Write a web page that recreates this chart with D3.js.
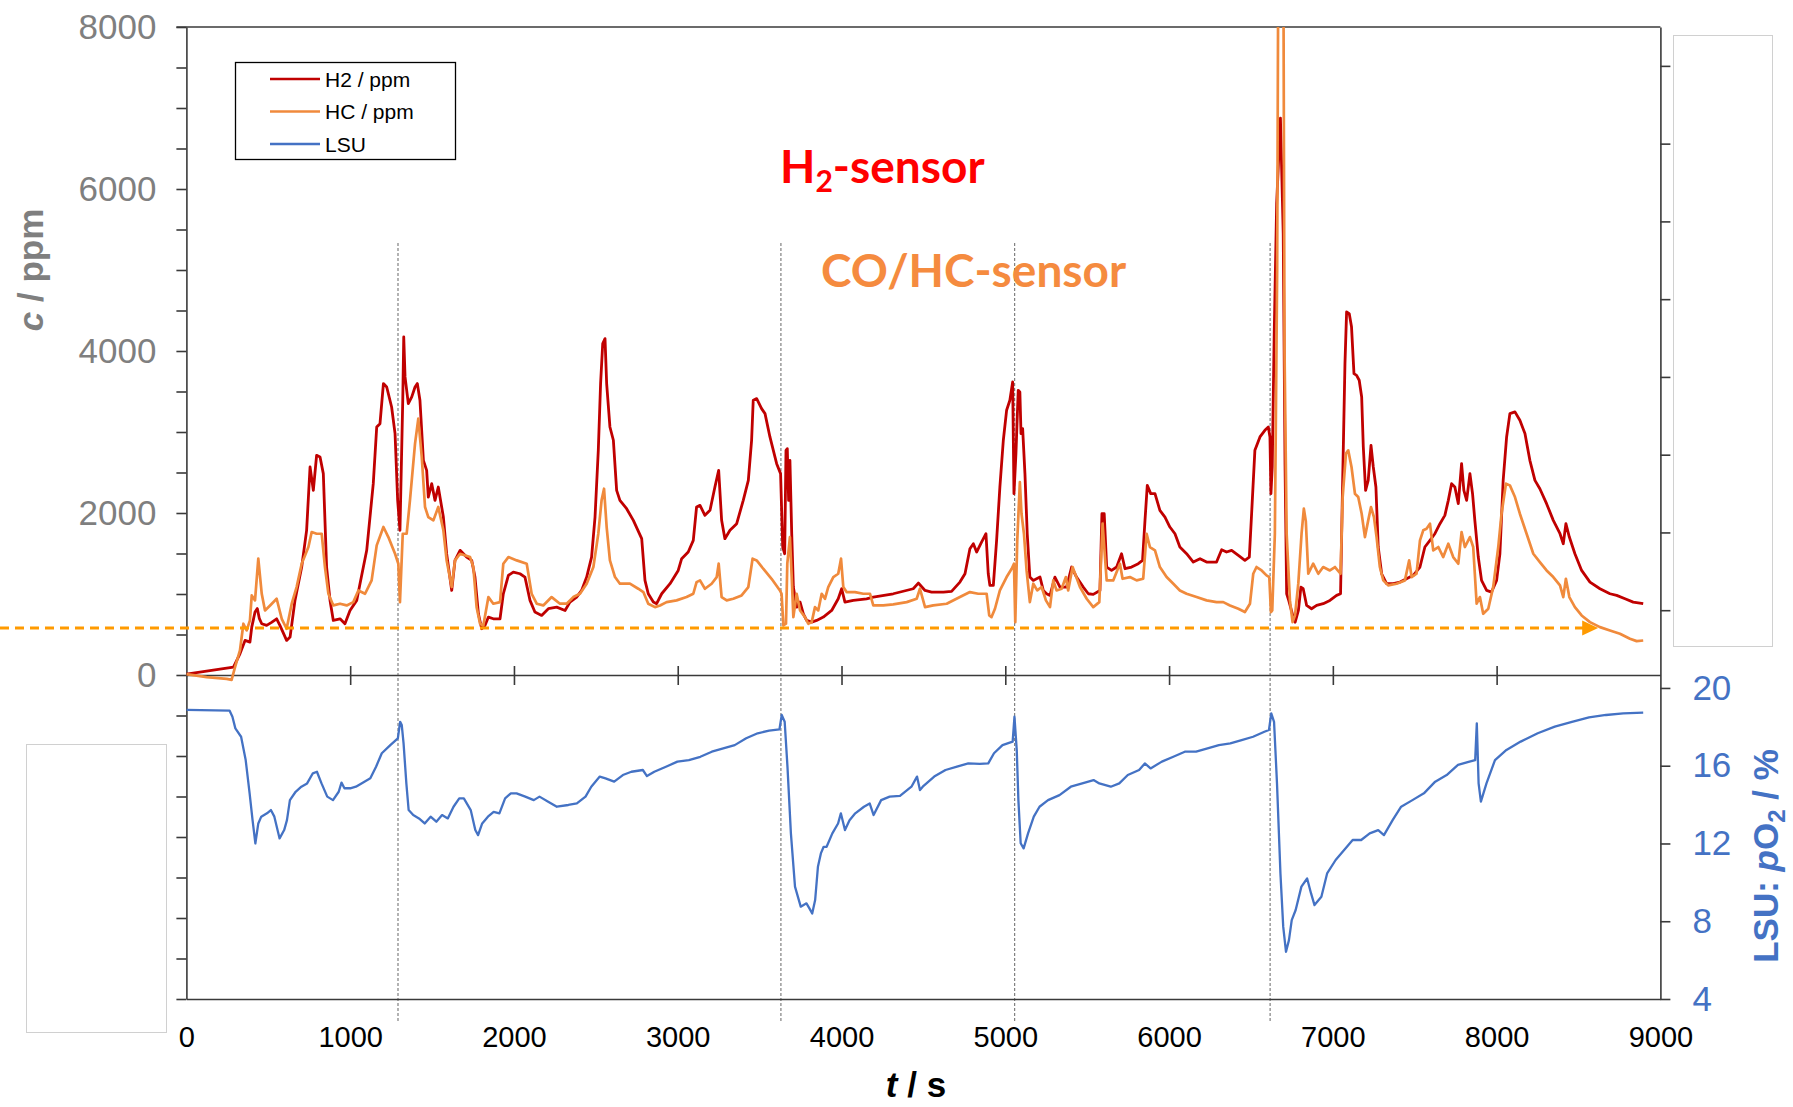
<!DOCTYPE html>
<html>
<head>
<meta charset="utf-8">
<script src="https://cdn.jsdelivr.net/npm/d3@7"></script>
<style>
  body { margin: 0; background: #fff; }
  svg { display: block; }
</style>
</head>
<body>
<div id="chart"></div>
<script>
// time in s, concentrations in ppm, LSU in % O2
const h2Data = [[0,10],[287,97],[297,138],[327,262],[358,427],[388,406],[399,591],[419,777],[433,820],[445,700],[460,633],[490,612],[520,650],[551,694],[571,612],[612,427],[633,468],[663,921],[704,1333],[734,1786],[755,2568],[775,2280],[795,2712],[816,2692],[836,2486],[856,1333],[877,921],[897,674],[938,694],[968,633],[999,797],[1040,921],[1060,1127],[1101,1539],[1141,2362],[1162,3062],[1182,3103],[1203,3598],[1223,3556],[1253,3309],[1274,2980],[1290,2156],[1304,1786],[1321,3392],[1327,4174],[1335,3680],[1355,3350],[1376,3433],[1396,3556],[1410,3598],[1426,3392],[1447,2650],[1467,2527],[1477,2197],[1498,2362],[1518,2156],[1538,2321],[1569,1950],[1589,1497],[1620,1044],[1640,1415],[1671,1539],[1711,1456],[1742,1415],[1762,1209],[1783,756],[1803,571],[1823,612],[1844,715],[1874,694],[1915,694],[1935,1003],[1966,1230],[1996,1271],[2037,1250],[2067,1209],[2098,921],[2128,777],[2169,736],[2210,818],[2261,838],[2312,797],[2342,900],[2383,962],[2413,1044],[2444,1209],[2474,1456],[2495,1950],[2515,2774],[2529,3598],[2542,4092],[2556,4153],[2566,3598],[2586,3062],[2607,2898],[2627,2280],[2647,2156],[2688,2053],[2729,1909],[2780,1683],[2800,1168],[2820,1003],[2851,900],[2871,880],[2902,1003],[2953,1127],[3003,1291],[3024,1436],[3064,1518],[3095,1662],[3115,2074],[3136,2094],[3166,1971],[3197,2033],[3227,2321],[3250,2527],[3268,1909],[3288,1683],[3319,1786],[3360,1868],[3400,2156],[3431,2403],[3451,2898],[3461,3392],[3482,3412],[3512,3289],[3533,3227],[3563,2939],[3604,2609],[3628,2486],[3641,1580],[3653,1497],[3661,2774],[3669,2794],[3677,2156],[3685,2650],[3696,1744],[3706,1086],[3726,838],[3747,900],[3767,756],[3787,674],[3818,653],[3848,674],[3889,715],[3940,797],[3980,941],[4001,1065],[4021,900],[4072,921],[4153,941],[4194,962],[4316,1003],[4438,1065],[4469,1135],[4510,1044],[4550,1024],[4622,1024],[4672,1032],[4723,1147],[4754,1250],[4784,1559],[4805,1621],[4825,1518],[4855,1641],[4882,1744],[4896,1250],[4906,1106],[4927,1106],[4947,1662],[4967,2321],[4988,2898],[5008,3268],[5028,3392],[5045,3618],[5053,2239],[5065,2733],[5079,3515],[5089,3495],[5096,2980],[5106,3042],[5120,2486],[5134,1744],[5150,1209],[5171,1168],[5191,1188],[5212,1209],[5232,1044],[5252,1003],[5273,983],[5303,1209],[5334,1086],[5374,1086],[5405,1333],[5435,1209],[5476,1086],[5507,1003],[5537,995],[5578,1044],[5590,1991],[5604,1991],[5619,1333],[5649,1291],[5680,1333],[5710,1497],[5731,1312],[5771,1333],[5812,1374],[5838,1415],[5853,1909],[5867,2341],[5888,2239],[5914,2239],[5944,2033],[5975,1950],[6005,1827],[6036,1744],[6066,1580],[6107,1497],[6148,1394],[6189,1436],[6229,1394],[6290,1394],[6321,1547],[6351,1518],[6382,1539],[6423,1477],[6463,1415],[6490,1456],[6504,1991],[6524,2774],[6555,2939],[6585,3021],[6606,3062],[6616,2939],[6622,2239],[6630,2568],[6642,4215],[6657,5825],[6680,6875],[6697,5449],[6708,2600],[6718,1003],[6731,919],[6758,715],[6770,652],[6790,800],[6805,1085],[6819,1065],[6840,859],[6870,818],[6901,859],[6941,880],[6982,921],[7023,983],[7047,1003],[7060,2403],[7074,3845],[7084,4483],[7100,4462],[7114,4298],[7129,3721],[7145,3700],[7161,3639],[7176,3433],[7186,2815],[7200,2280],[7216,2403],[7233,2836],[7247,2568],[7263,2321],[7277,1580],[7298,1250],[7328,1127],[7369,1127],[7410,1147],[7450,1188],[7491,1230],[7532,1333],[7562,1580],[7593,1662],[7623,1744],[7654,1868],[7684,1971],[7705,2156],[7725,2362],[7745,2321],[7766,2115],[7786,2609],[7800,2280],[7817,2156],[7837,2486],[7853,2238],[7867,1909],[7888,1456],[7908,1168],[7939,1044],[7969,1024],[8000,1168],[8020,1497],[8040,2403],[8061,2939],[8081,3227],[8112,3248],[8142,3145],[8173,2980],[8203,2650],[8234,2403],[8264,2300],[8305,2115],[8346,1909],[8387,1744],[8407,1621],[8423,1868],[8444,1703],[8478,1497],[8519,1291],[8570,1147],[8631,1065],[8692,1003],[8733,983],[8784,941],[8834,900],[8895,880]];

const hcData = [[0,10],[124,-27],[246,-47],[276,-60],[297,97],[327,303],[348,633],[368,550],[388,674],[399,983],[419,921],[439,1436],[460,1003],[480,797],[511,859],[551,941],[582,694],[612,571],[643,880],[673,1086],[704,1374],[745,1580],[765,1765],[795,1744],[826,1744],[846,1333],[867,1003],[897,859],[938,880],[979,859],[1019,900],[1050,1044],[1091,1003],[1131,1168],[1162,1600],[1203,1827],[1233,1703],[1274,1497],[1294,1374],[1304,900],[1321,1744],[1345,1744],[1365,2156],[1396,2856],[1416,3165],[1437,2692],[1457,2074],[1477,1950],[1508,1909],[1538,2074],[1569,1786],[1589,1415],[1620,1086],[1640,1415],[1671,1497],[1732,1456],[1752,1333],[1772,838],[1793,633],[1813,612],[1844,962],[1874,880],[1915,900],[1935,1374],[1966,1456],[2017,1415],[2078,1374],[2108,1003],[2139,880],[2179,859],[2230,962],[2281,880],[2322,880],[2362,962],[2403,1003],[2444,1127],[2485,1333],[2515,1744],[2535,2156],[2550,2300],[2566,1827],[2586,1415],[2617,1209],[2647,1127],[2708,1127],[2759,1065],[2790,1024],[2820,880],[2861,838],[2892,859],[2932,900],[2993,921],[3054,962],[3095,1003],[3115,1147],[3136,1168],[3166,1065],[3207,1127],[3238,1209],[3250,1374],[3268,962],[3299,921],[3339,941],[3390,983],[3431,1086],[3457,1436],[3482,1415],[3522,1312],[3573,1188],[3624,1044],[3634,1003],[3645,612],[3661,633],[3669,1374],[3685,1703],[3696,1209],[3706,715],[3726,1003],[3747,797],[3777,715],[3797,633],[3818,653],[3838,838],[3858,797],[3879,1003],[3899,941],[3919,1086],[3950,1209],[3980,1250],[3997,1436],[4011,1086],[4031,1024],[4082,1024],[4133,1003],[4174,1003],[4194,859],[4255,859],[4316,871],[4398,900],[4459,941],[4479,1065],[4510,838],[4560,859],[4642,880],[4723,962],[4784,1024],[4835,1003],[4886,1003],[4902,736],[4916,715],[4937,818],[4967,1044],[5008,1209],[5039,1312],[5053,1374],[5061,653],[5073,1662],[5089,2383],[5099,1991],[5114,1744],[5130,1291],[5150,900],[5171,1127],[5195,1044],[5222,1086],[5248,921],[5273,838],[5293,1168],[5313,1044],[5344,1065],[5370,1209],[5384,1044],[5411,1333],[5456,1086],[5497,941],[5537,838],[5574,900],[5594,1868],[5619,1168],[5659,1168],[5700,1374],[5716,1188],[5761,1209],[5802,1168],[5842,1188],[5863,1744],[5883,1580],[5914,1539],[5944,1333],[5985,1209],[6026,1127],[6066,1044],[6107,1003],[6168,962],[6229,921],[6290,900],[6331,900],[6372,859],[6423,818],[6463,777],[6494,880],[6514,1250],[6534,1333],[6565,1291],[6595,1230],[6612,1209],[6622,777],[6630,797],[6646,1744],[6660,5000],[6668,9500],[6697,9500],[6705,4000],[6718,1744],[6738,921],[6754,653],[6769,736],[6789,1127],[6809,1744],[6823,2053],[6835,1900],[6850,1250],[6880,1374],[6911,1250],[6941,1333],[6982,1291],[7013,1333],[7047,1250],[7060,2197],[7080,2733],[7094,2774],[7114,2568],[7135,2238],[7155,2197],[7176,1991],[7196,1703],[7216,1909],[7233,2074],[7251,1950],[7267,1703],[7287,1333],[7308,1168],[7338,1106],[7389,1127],[7440,1168],[7466,1415],[7481,1209],[7511,1250],[7532,1662],[7552,1786],[7572,1806],[7593,1868],[7613,1538],[7644,1580],[7674,1456],[7705,1621],[7735,1456],[7766,1374],[7786,1765],[7806,1580],[7837,1703],[7857,1580],[7878,880],[7898,962],[7918,756],[7949,818],[7979,1085],[8010,1580],[8030,1991],[8057,2362],[8081,2341],[8112,2197],[8142,1991],[8183,1744],[8224,1497],[8264,1394],[8305,1291],[8346,1209],[8387,1106],[8407,962],[8423,1188],[8444,962],[8478,838],[8519,735],[8570,653],[8631,591],[8692,550],[8753,509],[8814,447],[8855,418],[8895,426]];

const lsuData = [[0,18.87],[264,18.83],[281,18.52],[299,17.92],[334,17.49],[362,16.29],[386,14.58],[404,13.2],[421,12.0],[439,13.03],[457,13.38],[492,13.55],[516,13.72],[537,13.38],[569,12.26],[597,12.69],[614,13.2],[632,14.23],[667,14.66],[702,14.92],[737,15.09],[772,15.61],[797,15.69],[825,15.09],[860,14.41],[895,14.23],[930,14.66],[947,15.13],[965,14.84],[1000,14.84],[1035,14.92],[1087,15.18],[1123,15.35],[1158,15.95],[1193,16.64],[1245,17.06],[1291,17.41],[1305,18.26],[1315,18.09],[1326,17.15],[1343,15.09],[1357,13.72],[1385,13.46],[1420,13.29],[1455,13.03],[1491,13.38],[1526,13.12],[1561,13.46],[1596,13.29],[1631,13.89],[1666,14.32],[1694,14.32],[1736,13.72],[1764,12.69],[1781,12.43],[1806,13.03],[1841,13.38],[1876,13.63],[1911,13.55],[1946,14.32],[1981,14.58],[2016,14.58],[2069,14.41],[2121,14.23],[2156,14.41],[2209,14.15],[2262,13.89],[2332,13.98],[2384,14.06],[2437,14.41],[2472,14.92],[2524,15.44],[2559,15.35],[2612,15.18],[2665,15.52],[2717,15.69],[2787,15.78],[2812,15.47],[2857,15.69],[2928,15.95],[2998,16.21],[3068,16.29],[3138,16.46],[3208,16.72],[3278,16.89],[3348,17.06],[3418,17.41],[3488,17.67],[3558,17.8],[3621,17.87],[3635,18.61],[3653,18.26],[3670,15.95],[3691,12.52],[3716,9.78],[3751,8.75],[3786,8.92],[3804,8.66],[3821,8.4],[3839,9.09],[3856,10.8],[3874,11.49],[3891,11.83],[3909,11.83],[3944,12.52],[3979,13.03],[3996,13.55],[4021,12.69],[4049,13.2],[4084,13.55],[4137,13.89],[4172,14.06],[4196,13.46],[4242,14.23],[4294,14.41],[4357,14.45],[4427,14.92],[4461,15.44],[4479,14.75],[4496,14.92],[4566,15.44],[4635,15.78],[4705,15.95],[4774,16.12],[4844,16.09],[4896,16.12],[4931,16.64],[4983,17.06],[5045,17.24],[5056,18.52],[5070,16.81],[5080,14.23],[5094,12.01],[5112,11.75],[5139,12.52],[5174,13.38],[5209,13.89],[5261,14.23],[5331,14.49],[5400,14.92],[5470,15.09],[5539,15.26],[5574,15.09],[5644,14.92],[5696,15.09],[5748,15.52],[5817,15.78],[5852,16.12],[5887,15.86],[5956,16.21],[6026,16.46],[6096,16.72],[6165,16.72],[6235,16.89],[6304,17.06],[6374,17.15],[6443,17.32],[6513,17.49],[6582,17.75],[6610,17.84],[6624,18.69],[6641,18.26],[6659,15.09],[6680,10.46],[6697,7.72],[6714,6.43],[6732,7.03],[6749,8.06],[6773,8.58],[6808,9.78],[6843,10.2],[6867,9.43],[6888,8.83],[6930,9.26],[6965,10.46],[7017,11.15],[7069,11.66],[7121,12.18],[7173,12.18],[7225,12.52],[7277,12.69],[7312,12.43],[7365,13.2],[7417,13.89],[7486,14.23],[7556,14.58],[7625,15.18],[7695,15.52],[7764,16.04],[7834,16.21],[7869,16.29],[7879,18.18],[7890,15.09],[7904,14.15],[7938,15.09],[7990,16.29],[8060,16.81],[8147,17.24],[8251,17.67],[8355,18.01],[8460,18.26],[8564,18.49],[8668,18.61],[8773,18.69],[8895,18.73]];

const eventTimes = [1292, 3630, 5057, 6617];
const thresholdPpm = 580;
const thresholdEnd = 8620;
const xTicks = [0, 1000, 2000, 3000, 4000, 5000, 6000, 7000, 8000, 9000];
const cTicksLabeled = [0, 2000, 4000, 6000, 8000];
const lsuTicksLabeled = [4, 8, 12, 16, 20];
const legendItems = [
  { name: "H2 / ppm", color: "#C00000" },
  { name: "HC / ppm", color: "#F08A3C" },
  { name: "LSU", color: "#4472C4" },
];

const W = 1793, H = 1107;
const pL = 186.4, pR = 1660.4, pT = 27, pB = 999;
const axisFont = "'Liberation Sans', Arial, sans-serif";

const svg = d3.select("#chart").append("svg")
  .attr("width", W).attr("height", H)
  .attr("viewBox", `0 0 ${W} ${H}`);

const x = d3.scaleLinear().domain([0, 9000]).range([pL, pR]);
const yC = d3.scaleLinear().domain([-4000, 8000]).range([pB, pT]);
const yL = d3.scaleLinear().domain([4, 54]).range([pB, pT]);

svg.append("defs").append("clipPath").attr("id", "plot")
  .append("rect").attr("x", pL).attr("y", pT)
  .attr("width", pR - pL).attr("height", pB - pT);

// event markers
svg.append("g").selectAll("line").data(eventTimes).join("line")
  .attr("x1", d => x(d)).attr("x2", d => x(d))
  .attr("y1", 243).attr("y2", 1022)
  .attr("stroke", "#808080").attr("stroke-width", 1.2)
  .attr("stroke-dasharray", "3,2");

const axes = svg.append("g").attr("class", "axes");

// left axis (c / ppm), runs through both panels
const leftAxis = axes.append("g").attr("transform", `translate(${pL},0)`)
  .call(d3.axisLeft(yC)
    .tickValues(d3.range(-4000, 8001, 500))
    .tickSize(10).tickSizeOuter(0).tickPadding(20)
    .tickFormat(d => cTicksLabeled.includes(d) ? String(d) : ""));
leftAxis.selectAll("text").attr("fill", "#7F7F7F")
  .style("font", `35px ${axisFont}`);

// right axis (LSU)
const rightAxis = axes.append("g").attr("transform", `translate(${pR},0)`)
  .call(d3.axisRight(yL)
    .tickValues(d3.range(4, 53, 4))
    .tickSize(10).tickSizeOuter(0).tickPadding(22)
    .tickFormat(d => lsuTicksLabeled.includes(d) ? String(d) : ""));
rightAxis.selectAll("text").attr("fill", "#4472C4")
  .style("font", `35px ${axisFont}`);

// middle time axis at c = 0
const midAxis = axes.append("g").attr("transform", `translate(0,${yC(0)})`)
  .call(d3.axisBottom(x).tickValues(d3.range(1000, 9000, 1000))
    .tickSize(10).tickSizeOuter(0).tickFormat(""));
midAxis.selectAll(".tick line").attr("y1", -9);

// bottom time axis
const botAxis = axes.append("g").attr("transform", `translate(0,${pB})`)
  .call(d3.axisBottom(x).tickValues(xTicks)
    .tickSize(0).tickSizeOuter(0).tickPadding(27)
    .tickFormat(d => String(d)));
botAxis.selectAll("text").attr("fill", "#000")
  .style("font", `29px ${axisFont}`);

// top frame line
axes.append("line").attr("class", "frame")
  .attr("x1", pL - 10).attr("x2", pR)
  .attr("y1", pT).attr("y2", pT);

axes.selectAll(".domain, .tick line, .frame")
  .attr("stroke", "#3a3a3a").attr("stroke-width", 1.6);

// data
const lineC = d3.line().x(d => x(d[0])).y(d => yC(d[1]));
const lineL = d3.line().x(d => x(d[0])).y(d => yL(d[1]));
const plot = svg.append("g").attr("clip-path", "url(#plot)")
  .attr("fill", "none").attr("stroke-linejoin", "round");
plot.append("path").datum(h2Data).attr("d", lineC)
  .attr("stroke", legendItems[0].color).attr("stroke-width", 2.8);
plot.append("path").datum(hcData).attr("d", lineC)
  .attr("stroke", legendItems[1].color).attr("stroke-width", 2.7);
plot.append("path").datum(lsuData).attr("d", lineL)
  .attr("stroke", legendItems[2].color).attr("stroke-width", 2.3);

// threshold arrow
const ty = yC(thresholdPpm);
svg.append("line").attr("x1", 0).attr("x2", x(thresholdEnd) - 14)
  .attr("y1", ty).attr("y2", ty)
  .attr("stroke", "#FF9A00").attr("stroke-width", 3)
  .attr("stroke-dasharray", "9,6");
svg.append("path")
  .attr("d", `M${x(thresholdEnd) - 16},${ty - 7.5}L${x(thresholdEnd)},${ty}L${x(thresholdEnd) - 16},${ty + 7.5}Z`)
  .attr("fill", "#FF9A00");

// blank label boxes
svg.append("rect").attr("x", 26.5).attr("y", 744.5).attr("width", 140).attr("height", 288)
  .attr("fill", "#fff").attr("stroke", "#D0D0D0");
svg.append("rect").attr("x", 1673.5).attr("y", 35.5).attr("width", 99).attr("height", 611)
  .attr("fill", "#fff").attr("stroke", "#D0D0D0");

// legend
const lg = svg.append("g");
lg.append("rect").attr("x", 235.5).attr("y", 62.5).attr("width", 220).attr("height", 97)
  .attr("fill", "#fff").attr("stroke", "#000").attr("stroke-width", 1.3);
const li = lg.selectAll("g.item").data(legendItems).join("g").attr("class", "item")
  .attr("transform", (d, i) => `translate(0,${79 + i * 32.5})`);
li.append("line").attr("x1", 270).attr("x2", 320)
  .attr("stroke", d => d.color).attr("stroke-width", 2.5);
li.append("text").attr("x", 325).attr("y", 7.5)
  .style("font", `21px ${axisFont}`).attr("fill", "#000")
  .text(d => d.name);

// axis titles
const yt = svg.append("text").attr("transform", "translate(43,270) rotate(-90)")
  .attr("text-anchor", "middle").attr("fill", "#7F7F7F")
  .style("font", `bold 35px ${axisFont}`);
yt.append("tspan").attr("font-style", "italic").text("c");
yt.append("tspan").text(" / ppm");

const rt = svg.append("text").attr("transform", "translate(1778,856) rotate(-90)")
  .attr("text-anchor", "middle").attr("fill", "#4472C4")
  .style("font", `bold 35px ${axisFont}`);
rt.append("tspan").text("LSU: ");
rt.append("tspan").attr("font-style", "italic").text("p");
rt.append("tspan").text("O");
rt.append("tspan").attr("font-size", "24px").attr("dy", 7).text("2");
rt.append("tspan").attr("dy", -7).text(" / %");

const xt = svg.append("text").attr("x", 916).attr("y", 1097)
  .attr("text-anchor", "middle").attr("fill", "#000")
  .style("font", `bold 35px ${axisFont}`);
xt.append("tspan").attr("font-style", "italic").text("t");
xt.append("tspan").text(" / s");

// sensor annotations
const annFont = "Lato, 'Open Sans', sans-serif";
const a1 = svg.append("text").attr("x", 780).attr("y", 183)
  .attr("fill", "#FF0000").style("font", `bold 46px ${annFont}`);
a1.append("tspan").text("H");
a1.append("tspan").attr("font-size", "30px").attr("dy", 9).text("2");
a1.append("tspan").attr("dy", -9).text("-sensor");

svg.append("text").attr("x", 821).attr("y", 287)
  .attr("fill", "#F58B3F").style("font", `bold 46px ${annFont}`)
  .text("CO/HC-sensor");
</script>
</body>
</html>
